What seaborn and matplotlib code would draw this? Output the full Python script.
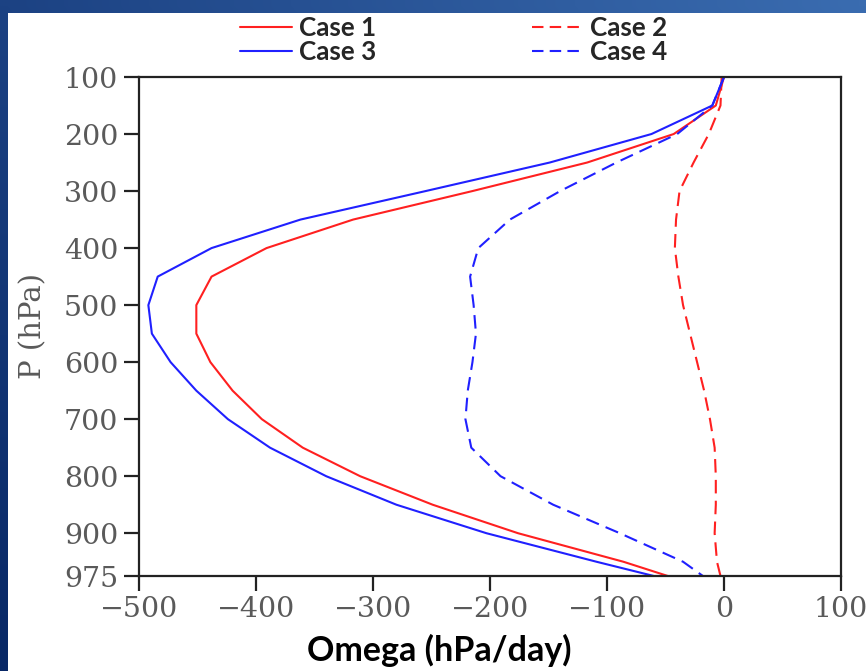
import numpy as np
import pandas as pd
import seaborn as sns
import matplotlib
matplotlib.use("Agg")
import matplotlib.pyplot as plt
from matplotlib.patches import Rectangle
from matplotlib.lines import Line2D

# Pressure levels (hPa) and omega profiles (hPa/day)
pressure = [100, 150, 200, 250, 300, 350, 400, 450, 500, 550, 600, 650, 700, 750, 800, 850, 900, 950, 975]
case1 = [0, -7, -43, -117, -215, -317, -391, -438, -451, -451, -439, -420, -395, -360, -311, -249, -176, -86, -48]
case2 = [-2, -3, -13, -26, -38, -41, -42, -39, -35, -29, -23, -17, -12, -8, -7, -7, -8, -6, -3]
case3 = [0, -10, -62, -149, -255, -362, -438, -484, -492, -489, -473, -451, -424, -388, -340, -280, -203, -109, -60]
case4 = [0, -10, -40, -92, -140, -183, -210, -217, -214, -212, -215, -219, -221, -216, -191, -146, -89, -35, -18]

case_names = ["Case 1", "Case 2", "Case 3", "Case 4"]
case_values = [case1, case2, case3, case4]
case_colors = ["#ff2020", "#ff2020", "#2020ff", "#2020ff"]
case_dashed = [False, True, False, True]

x_ticks = [-500, -400, -300, -200, -100, 0, 100]
y_ticks = [100, 200, 300, 400, 500, 600, 700, 800, 900, 975]

sns.set_theme(style="white")

fig = plt.figure(figsize=(8.66, 6.71), dpi=100)

# Blue slide-style frame behind the white panel
bg = fig.add_axes([0, 0, 1, 1], zorder=-10)
bg.set_axis_off()
tl = np.array([0x1c, 0x42, 0x83]) / 255
tr = np.array([0x3a, 0x6c, 0xb0]) / 255
bl = np.array([0x08, 0x28, 0x66]) / 255
br = np.array([0x20, 0x4c, 0x90]) / 255
u = np.linspace(0, 1, 60)[None, :, None]
v = np.linspace(0, 1, 60)[:, None, None]
grad = (1 - v) * ((1 - u) * tl + u * tr) + v * ((1 - u) * bl + u * br)
bg.imshow(grad, extent=[0, 1, 0, 1], aspect="auto", interpolation="bilinear")
bg.set_xlim(0, 1)
bg.set_ylim(0, 1)
bg.add_patch(Rectangle((8 / 866, 0), 1, (671 - 13) / 671,
                       facecolor="white", edgecolor="none"))

ax = fig.add_axes([139 / 866, 1 - 576 / 671, (841 - 139) / 866, (576 - 77) / 671])
ax.set_facecolor("white")

rows = []
for name, vals in zip(case_names, case_values):
    for p, w in zip(pressure, vals):
        rows.append({"case": name, "omega": w, "pressure": p})
df = pd.DataFrame(rows)

for name, color, dashed in zip(case_names, case_colors, case_dashed):
    sub = df[df["case"] == name]
    sns.lineplot(data=sub, x="omega", y="pressure", sort=False, estimator=None,
                 color=color, linewidth=1.5, ax=ax, legend=False)
    if dashed:
        ax.lines[-1].set_dashes((6.5, 3.5))

ax.set_xlim(-500, 100)
ax.set_ylim(975, 100)
ax.set_xticks(x_ticks)
ax.set_yticks(y_ticks)
ax.set_xticklabels([f"{t}".replace("-", "\u2212") for t in x_ticks])
ax.set_yticklabels([str(t) for t in y_ticks])

for s in ax.spines.values():
    s.set_visible(True)
    s.set_color("#222222")
    s.set_linewidth(1.6)

ax.tick_params(axis="both", which="major", direction="out", length=11, width=1.6,
               color="#222222", labelsize=20.5, labelcolor="#5a5a5a")
ax.tick_params(axis="x", pad=3.5, bottom=True, top=False)
ax.tick_params(axis="y", pad=4, left=True, right=False)
for lab in ax.get_xticklabels() + ax.get_yticklabels():
    lab.set_family("DejaVu Serif")

ax.set_xlabel("")
ax.set_ylabel("P (hPa)", family="DejaVu Serif", fontsize=21, color="#5a5a5a")
ax.yaxis.set_label_coords((47 - 139) / (841 - 139), (576 - 326) / (576 - 77))

fig.text(439 / 866, 1 - 650 / 671, "Omega (hPa/day)", ha="center", va="center",
         family="Lato", fontweight="bold", fontsize=24.5, color="black")

# Legend: two columns above the plot
handles = []
for name, color, dashed in zip(case_names, case_colors, case_dashed):
    h = Line2D([], [], color=color, linewidth=1.5, linestyle=(0, (5.5, 3)) if dashed else "-")
    handles.append(h)
order = [0, 2, 1, 3]
leg = fig.legend([handles[i] for i in order], [case_names[i] for i in order],
                 ncol=2, loc="center", bbox_to_anchor=(454 / 866, 1 - 40 / 671),
                 frameon=False, handlelength=2.0, handletextpad=0.25, columnspacing=6.0,
                 labelspacing=0.0, borderpad=0,
                 prop={"family": "Lato", "weight": "bold", "size": 18.7})

fig.savefig("out.png", dpi=100)
